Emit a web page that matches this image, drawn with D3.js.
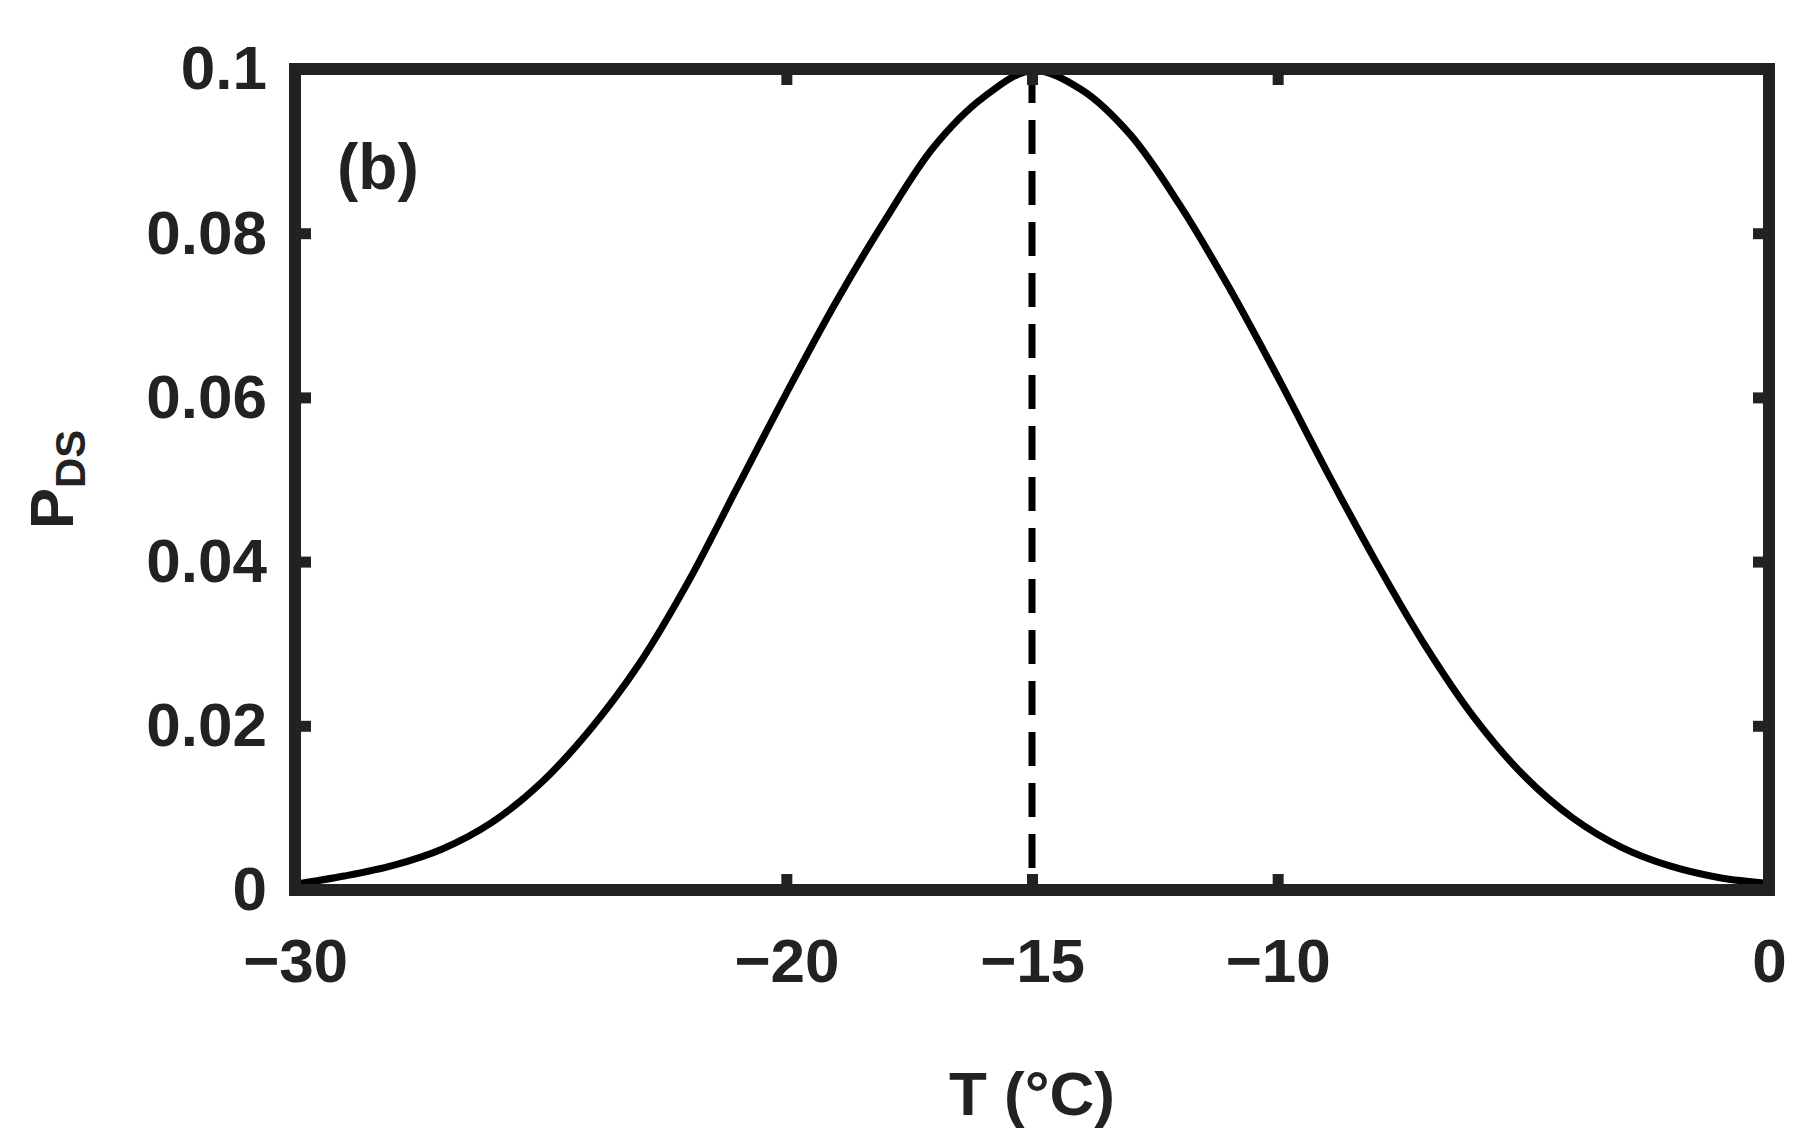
<!DOCTYPE html>
<html><head><meta charset="utf-8">
<script src="https://cdn.jsdelivr.net/npm/d3@7"></script>
<style>body{margin:0;background:#fff}text{font-family:"Liberation Sans",Arial,sans-serif;font-weight:bold;fill:#222}</style>
</head><body><div id="chart"></div>
<script>
// Temperature (°C) and P_DS
const temps = [-30,-29,-28,-27,-26,-25,-24,-23,-22,-21,-20,-19,-18,-17,-16,-15,-14,-13,-12,-11,-10,-9,-8,-7,-6,-5,-4,-3,-2,-1,0];
const pds = [0.0007,0.0017,0.003,0.005,0.0082,0.013,0.0195,0.0275,0.0375,0.049,0.0605,0.0715,0.0815,0.0905,0.0965,0.0998,0.0975,0.092,0.0835,0.0735,0.0625,0.051,0.04,0.0298,0.021,0.014,0.0088,0.0052,0.0029,0.0015,0.0008];
const xTicks = [-30,-20,-15,-10,0];
const yTicks = [0,0.02,0.04,0.06,0.08,0.1];
const peakT = -15;

const margin = {top: 69, right: 35, bottom: 245, left: 295};
const width = 1804 - margin.left - margin.right;
const height = 1135 - margin.top - margin.bottom;

const svg = d3.select('#chart').append('svg')
    .attr('width', 1804).attr('height', 1135)
    .append('g')
    .attr('transform', 'translate(' + margin.left + ',' + margin.top + ')');

const x = d3.scaleLinear().domain([-30, 0]).range([0, width]);
const y = d3.scaleLinear().domain([0, 0.1]).range([height, 0]);

const fmt = d => d === 0 ? '0' : (d < 0 ? '\u2212' + Math.abs(d) : String(d));

// curve
const line = d3.line().x((d, i) => x(temps[i])).y(d => y(d)).curve(d3.curveCatmullRom);
svg.append('path').datum(pds).attr('d', line)
    .attr('fill', 'none').attr('stroke', '#000').attr('stroke-width', 7);

// dashed peak line
svg.append('line')
    .attr('x1', x(peakT)).attr('x2', x(peakT)).attr('y1', y(0.1)).attr('y2', y(0))
    .attr('stroke', '#000').attr('stroke-width', 7).attr('stroke-dasharray', '34,17');

// axes with inward ticks
const tl = 16;
svg.append('g').attr('transform', 'translate(0,' + height + ')')
    .call(d3.axisBottom(x).tickValues(xTicks).tickSize(-tl).tickPadding(48).tickFormat(fmt))
    .call(g => g.selectAll('line').attr('stroke', '#222').attr('stroke-width', 11));
svg.append('g')
    .call(d3.axisTop(x).tickValues(xTicks).tickSize(-tl).tickFormat(''))
    .call(g => g.selectAll('line').attr('stroke', '#222').attr('stroke-width', 11));
svg.append('g')
    .call(d3.axisLeft(y).tickValues(yTicks).tickSize(-tl).tickPadding(28).tickFormat(d => d === 0 ? '0' : String(+d.toFixed(2))))
    .call(g => g.selectAll('line').attr('stroke', '#222').attr('stroke-width', 11));
svg.append('g').attr('transform', 'translate(' + width + ',0)')
    .call(d3.axisRight(y).tickValues(yTicks).tickSize(-tl).tickFormat(''))
    .call(g => g.selectAll('line').attr('stroke', '#222').attr('stroke-width', 11));
svg.selectAll('.domain').remove();
svg.selectAll('.tick text').style('font-size', '62px').attr('fill', '#222');

// frame
svg.append('rect').attr('width', width).attr('height', height)
    .attr('fill', 'none').attr('stroke', '#222').attr('stroke-width', 12);

// panel label
svg.append('text').attr('x', 42).attr('y', 120).style('font-size', '64px').text('(b)');

// axis labels
svg.append('text').attr('x', width / 2).attr('y', height + 225)
    .attr('text-anchor', 'middle').style('font-size', '62px').text('T (\u00b0C)');
const yl = svg.append('text').attr('transform', 'translate(' + (-222) + ',' + (height / 2) + ') rotate(-90)')
    .attr('text-anchor', 'middle').style('font-size', '62px');
yl.append('tspan').text('P');
yl.append('tspan').style('font-size', '42px').attr('dy', 12).text('DS');
</script></body></html>
